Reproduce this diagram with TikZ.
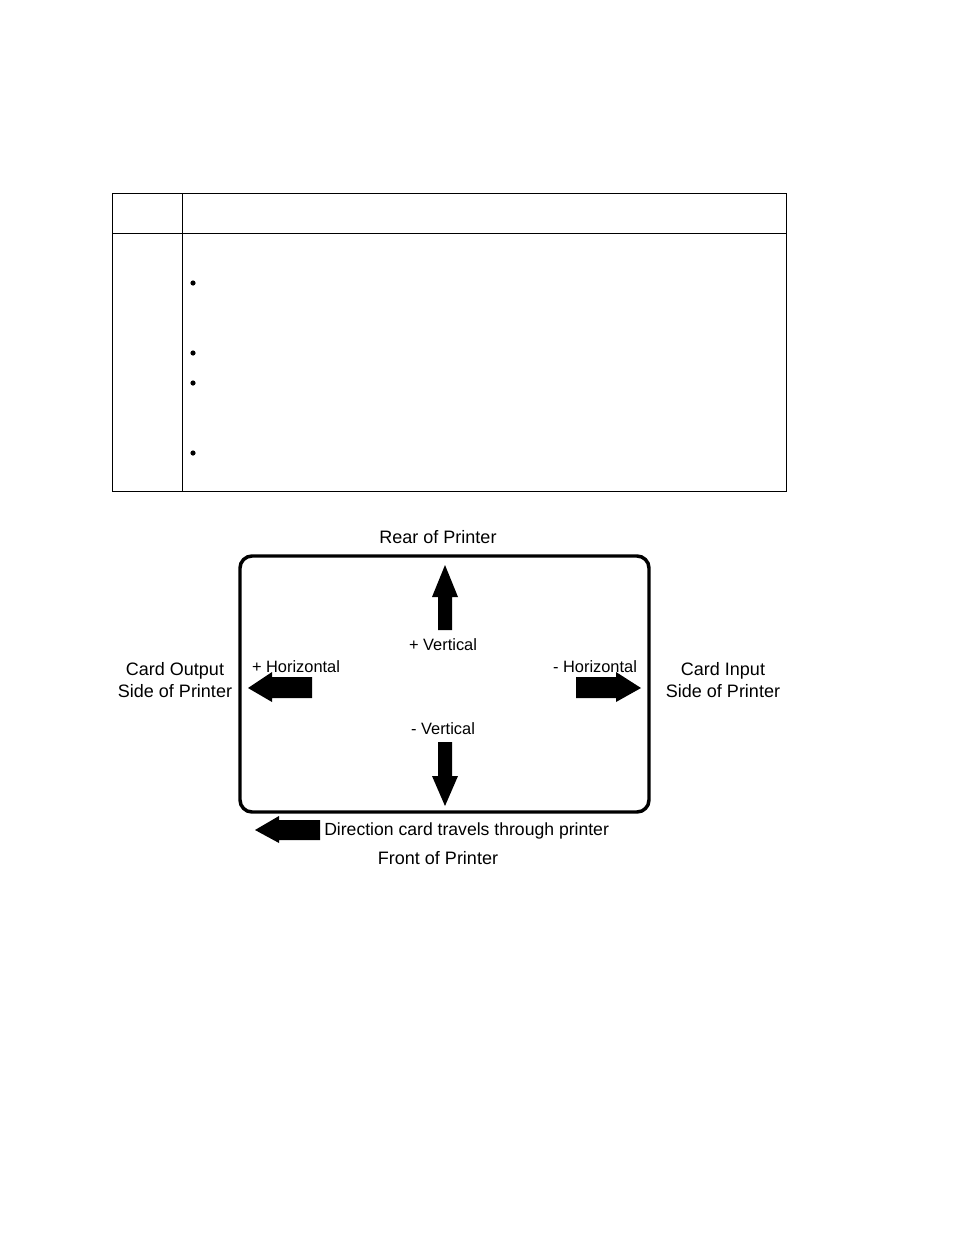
\documentclass[tikz,border=0pt]{standalone}
\usepackage{fontspec}
\setmainfont{Liberation Sans}
\begin{document}
\begin{tikzpicture}[x=0.75pt,y=-0.75pt,
  big/.style={font=\fontsize{13.5}{16}\selectfont,align=center,inner sep=0},
  small/.style={font=\fontsize{12.3}{14}\selectfont,inner sep=0},
  blk/.style={fill=black,draw=none}]
\useasboundingbox (0,0) rectangle (954,1235);
% table
\draw[line width=0.7pt] (112,193) rectangle (786,491);
\draw[line width=0.7pt] (112,233) -- (786,233);
\draw[line width=0.7pt] (182,193) -- (182,491);
\foreach \y in {283,353,383,453} \fill (193,\y) circle (2.6);
% card
\draw[line width=2.6pt,rounded corners=9] (240,556) rectangle (649,812);
% arrows
\fill[blk] (438,630) -- (438,597) -- (432,597) -- (445,565) -- (458,597) -- (452,597) -- (452,630) -- cycle;
\fill[blk] (438,742) -- (438,776) -- (432,776) -- (445,806) -- (458,776) -- (452,776) -- (452,742) -- cycle;
\fill[blk] (312,677) -- (272,677) -- (272,672) -- (248,688) -- (272,702) -- (272,698) -- (312,698) -- cycle;
\fill[blk] (576,677) -- (616,677) -- (616,672) -- (641,688) -- (616,702) -- (616,698) -- (576,698) -- cycle;
\fill[blk] (320,820) -- (279,820) -- (279,816) -- (255,830) -- (279,843) -- (279,840) -- (320,840) -- cycle;
% labels
\node[big] (rear) at (438,537) {Rear of Printer};
\node[big] (front) at (438,858) {Front of Printer};
\node[big] (out) at (175,680) {Card Output\\Side of Printer};
\node[big] (in) at (723,680) {Card Input\\Side of Printer};
\node[small] (pv) at (443,645) {+ Vertical};
\node[small] (mv) at (443,729) {- Vertical};
\node[small] (ph) at (296,667) {+ Horizontal};
\node[small] (mh) at (595,667) {- Horizontal};
\node[small,anchor=west,font=\fontsize{13.2}{15}\selectfont] (dir) at (324,831) {Direction card travels through printer};
\end{tikzpicture}
\end{document}
